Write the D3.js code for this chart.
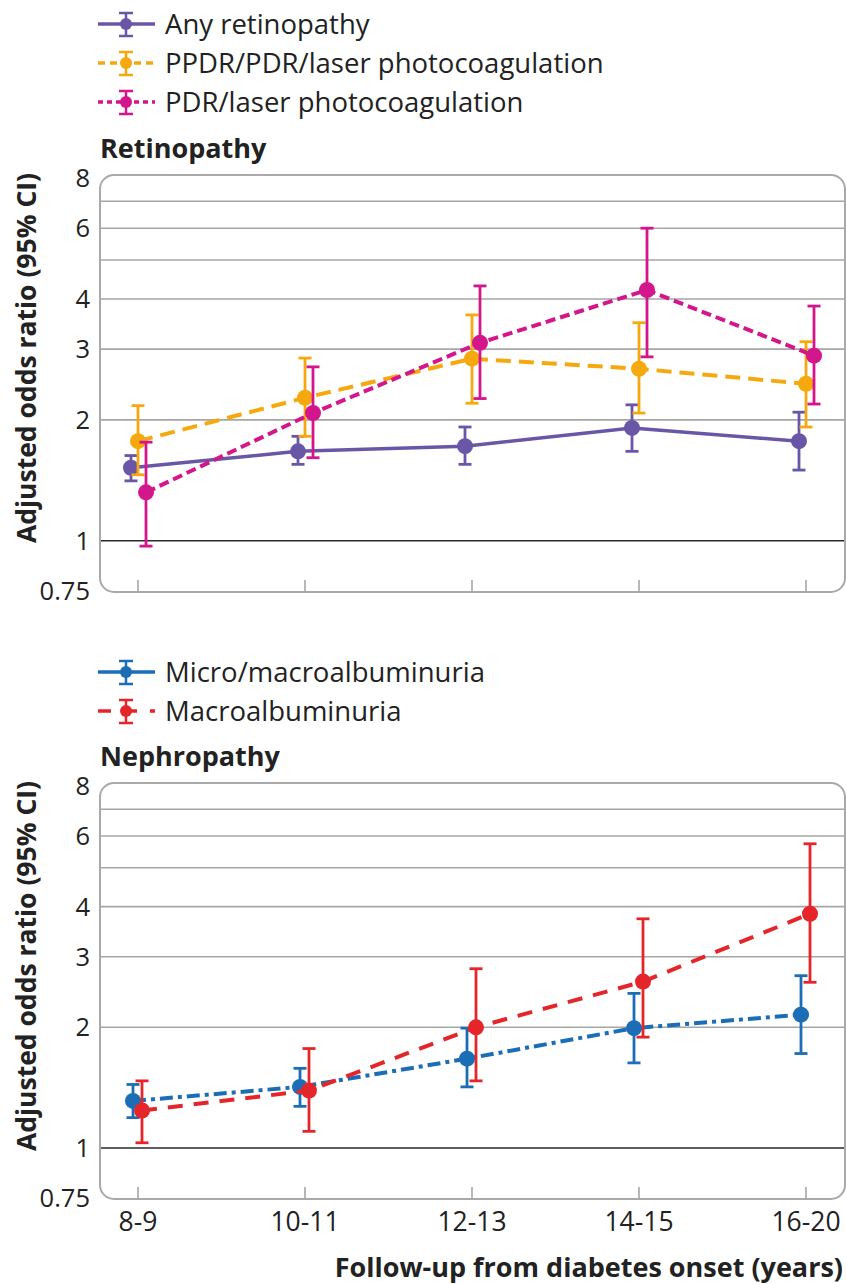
<!DOCTYPE html>
<html>
<head>
<meta charset="utf-8">
<script src="https://cdn.jsdelivr.net/npm/d3@7"></script>
<style>
  body { margin: 0; background: #fff; }
  svg { display: block; font-family: "Open Sans", sans-serif; }
</style>
</head>
<body>
<svg id="chart" width="846" height="1284"></svg>
<script>
// categories and tick labels
const followUp = ['8-9', '10-11', '12-13', '14-15', '16-20']
const yTicks = [0.75, 1, 2, 3, 4, 6, 8]
const yGrid = [2, 3, 4, 5, 6, 7]

// retinopathy series: odds ratio, lower CI, upper CI per follow-up group
const anyRetinopathy = [1.52, 1.67, 1.72, 1.91, 1.77]
const anyRetinopathyLo = [1.41, 1.55, 1.55, 1.67, 1.50]
const anyRetinopathyHi = [1.63, 1.82, 1.92, 2.18, 2.09]

const ppdr = [1.77, 2.27, 2.84, 2.68, 2.46]
const ppdrLo = [1.46, 1.82, 2.20, 2.08, 1.92]
const ppdrHi = [2.17, 2.85, 3.65, 3.49, 3.13]

const pdr = [1.32, 2.08, 3.11, 4.21, 2.89]
const pdrLo = [0.97, 1.61, 2.26, 2.87, 2.19]
const pdrHi = [1.76, 2.71, 4.31, 6.00, 3.84]

// nephropathy series
const microMacro = [1.31, 1.42, 1.67, 1.99, 2.15]
const microMacroLo = [1.19, 1.27, 1.42, 1.63, 1.72]
const microMacroHi = [1.44, 1.58, 1.99, 2.43, 2.69]

const macro = [1.24, 1.39, 2.00, 2.60, 3.84]
const macroLo = [1.03, 1.10, 1.47, 1.89, 2.59]
const macroHi = [1.47, 1.77, 2.80, 3.73, 5.74]

/*
	Series styling
*/
const panels = [
	{
		title: 'Retinopathy',
		top: 175, bottom: 592, legendY: 24,
		series: [
			{name: 'Any retinopathy', or: anyRetinopathy, lo: anyRetinopathyLo, hi: anyRetinopathyHi,
				color: '#6a56a6', dash: null, legendDash: null, width: 3.5, dx: -7},
			{name: 'PPDR/PDR/laser photocoagulation', or: ppdr, lo: ppdrLo, hi: ppdrHi,
				color: '#f6a80f', dash: '15,8', legendDash: '7,5', width: 4, dx: 0},
			{name: 'PDR/laser photocoagulation', or: pdr, lo: pdrLo, hi: pdrHi,
				color: '#d3168c', dash: '10,5', legendDash: '5,4', width: 4, dx: 8},
		]
	},
	{
		title: 'Nephropathy',
		top: 783, bottom: 1199, legendY: 672,
		series: [
			{name: 'Micro/macroalbuminuria', or: microMacro, lo: microMacroLo, hi: microMacroHi,
				color: '#1b6db6', dash: '13,5,4,5', legendDash: null, width: 4, dx: -5},
			{name: 'Macroalbuminuria', or: macro, lo: macroLo, hi: macroHi,
				color: '#e4262b', dash: '15,11', legendDash: '13,13', width: 4, dx: 4},
		]
	}
]

const svg = d3.select('#chart')
const [frameLeft, frameRight] = [100, 845]
const x = d3.scalePoint().domain(followUp).range([138, 806])
const legendGap = 39

panels.forEach(panel => {
	const y = d3.scaleLog().domain([0.75, 8]).range([panel.bottom - 1, panel.top + 3])
	const g = svg.append('g')

	//legend
	panel.series.forEach((s, i) => {
		const ly = panel.legendY + i * legendGap
		const item = g.append('g').attr('transform', `translate(0,${ly})`)
		item.append('line')
			.attr('x1', 98).attr('x2', 155).attr('y1', 0).attr('y2', 0)
			.attr('stroke', s.color).attr('stroke-width', 3.5)
			.attr('stroke-dasharray', s.legendDash)
		item.append('line')
			.attr('x1', 126).attr('x2', 126).attr('y1', -11).attr('y2', 12)
			.attr('stroke', s.color).attr('stroke-width', 2.5)
		item.selectAll('.cap').data([-11, 12]).enter().append('line')
			.attr('x1', 119).attr('x2', 133).attr('y1', d => d).attr('y2', d => d)
			.attr('stroke', s.color).attr('stroke-width', 2.5)
		item.append('circle').attr('cx', 126).attr('cy', 0).attr('r', 6).attr('fill', s.color)
		item.append('text')
			.attr('x', 165).attr('y', 0).attr('dy', '0.35em')
			.attr('font-size', 27.5).attr('fill', '#222')
			.text(s.name)
	})

	//title
	g.append('text')
		.attr('x', frameLeft).attr('y', panel.top - 17)
		.attr('font-size', 27).attr('font-weight', 'bold').attr('fill', '#222')
		.text(panel.title)

	//frame
	g.append('rect')
		.attr('x', frameLeft).attr('y', panel.top)
		.attr('width', frameRight - frameLeft).attr('height', panel.bottom - panel.top)
		.attr('rx', 14).attr('fill', 'none')
		.attr('stroke', '#a9a9a9').attr('stroke-width', 2)

	//gridlines
	g.selectAll('.grid').data(yGrid).enter().append('line')
		.attr('x1', frameLeft + 1).attr('x2', frameRight - 1)
		.attr('y1', d => y(d)).attr('y2', d => y(d))
		.attr('stroke', '#a6a6a6').attr('stroke-width', 1.6)
	g.append('line')
		.attr('x1', frameLeft + 1).attr('x2', frameRight - 1)
		.attr('y1', y(1)).attr('y2', y(1))
		.attr('stroke', '#2a2a2a').attr('stroke-width', 1.6)

	//x ticks inside the frame
	g.selectAll('.tick').data(followUp).enter().append('line')
		.attr('x1', d => x(d)).attr('x2', d => x(d))
		.attr('y1', panel.bottom - 12).attr('y2', panel.bottom)
		.attr('stroke', '#a6a6a6').attr('stroke-width', 1.6)

	//y tick labels
	g.selectAll('.ylab').data(yTicks).enter().append('text')
		.attr('x', 90).attr('y', d => y(d)).attr('dy', '0.35em')
		.attr('text-anchor', 'end').attr('font-size', 25.5).attr('fill', '#222')
		.text(d => d)

	//y axis title
	const yMid = panel.top + 183
	g.append('text')
		.attr('transform', `translate(36,${yMid}) rotate(-90)`)
		.attr('text-anchor', 'middle')
		.attr('font-size', 26.5).attr('font-weight', 'bold').attr('fill', '#222')
		.text('Adjusted odds ratio (95% CI)')

	//series lines, error bars and points
	panel.series.forEach(s => {
		const pts = followUp.map((c, i) => ({x: x(c) + s.dx, or: s.or[i], lo: s.lo[i], hi: s.hi[i]}))
		const sg = g.append('g')
		sg.append('path')
			.datum(pts)
			.attr('d', d3.line().x(p => p.x).y(p => y(p.or)))
			.attr('fill', 'none').attr('stroke', s.color)
			.attr('stroke-width', s.width).attr('stroke-dasharray', s.dash)
		sg.selectAll('.err').data(pts).enter().append('line')
			.attr('x1', p => p.x).attr('x2', p => p.x)
			.attr('y1', p => y(p.lo)).attr('y2', p => y(p.hi))
			.attr('stroke', s.color).attr('stroke-width', 2.8)
		sg.selectAll('.capLo').data(pts).enter().append('line')
			.attr('x1', p => p.x - 6.5).attr('x2', p => p.x + 6.5)
			.attr('y1', p => y(p.lo)).attr('y2', p => y(p.lo))
			.attr('stroke', s.color).attr('stroke-width', 2.8)
		sg.selectAll('.capHi').data(pts).enter().append('line')
			.attr('x1', p => p.x - 6.5).attr('x2', p => p.x + 6.5)
			.attr('y1', p => y(p.hi)).attr('y2', p => y(p.hi))
			.attr('stroke', s.color).attr('stroke-width', 2.8)
		sg.selectAll('.pt').data(pts).enter().append('circle')
			.attr('cx', p => p.x).attr('cy', p => y(p.or)).attr('r', 8)
			.attr('fill', s.color)
	})
})

//x tick labels and title below the last panel
svg.selectAll('.xlab').data(followUp).enter().append('text')
	.attr('x', d => x(d)).attr('y', 1222).attr('dy', '0.35em')
	.attr('text-anchor', 'middle').attr('font-size', 26.5).attr('fill', '#222')
	.text(d => d)
svg.append('text')
	.attr('x', 843).attr('y', 1268).attr('dy', '0.35em')
	.attr('text-anchor', 'end').attr('font-size', 27).attr('font-weight', 'bold').attr('fill', '#222')
	.text('Follow-up from diabetes onset (years)')
</script>
</body>
</html>
